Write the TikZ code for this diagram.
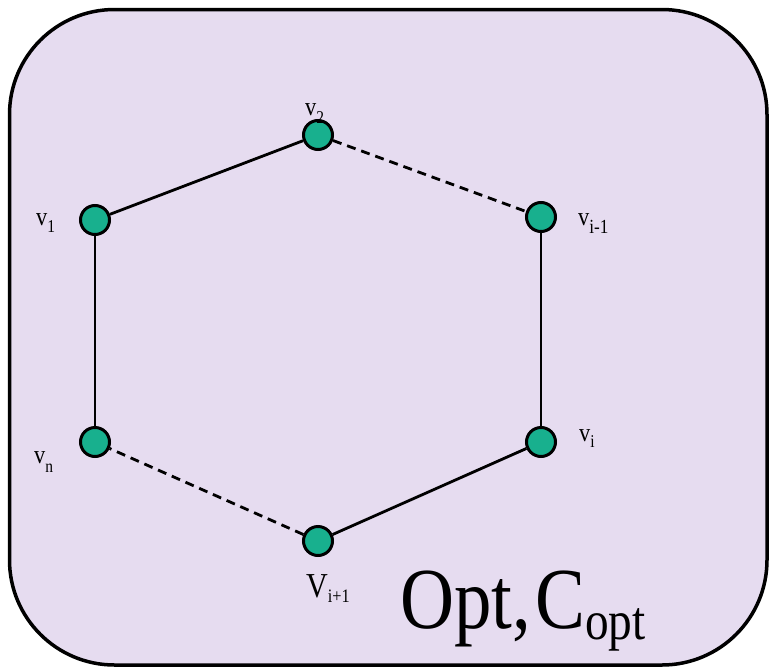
\documentclass[tikz,border=0pt]{standalone}
\usepackage{fontspec}
\setmainfont{Liberation Serif}
\newfontfamily\narrowserif[FakeStretch=0.86]{Liberation Serif}
\definecolor{bgfill}{RGB}{230,220,240}
\definecolor{nodeteal}{RGB}{24,176,142}
\newcommand{\lowsub}[3][7pt]{\raisebox{-#1}{\fontsize{#2}{#2}\selectfont #3}}
\tikzset{
  vert/.style={circle,draw=black,line width=3pt,fill=nodeteal,minimum size=29pt,inner sep=0pt},
  edge/.style={line width=2.8pt},
  dedge/.style={line width=2.8pt,dash pattern=on 9pt off 6pt},
  lbl/.style={anchor=base west,inner sep=0pt,font=\narrowserif\fontsize{26}{26}\selectfont}
}
\begin{document}
\begin{tikzpicture}[x=1pt,y=-1pt]
\useasboundingbox (0,0) rectangle (769,667);
\draw[line width=3.5pt,fill=bgfill,rounded corners=105pt] (9.5,9.5) rectangle (767,665);
\node[vert] (v2) at (318,135) {};
\node[vert] (v1) at (95,220) {};
\node[vert] (vim) at (541,217) {};
\node[vert] (vn) at (95,442) {};
\node[vert] (vi) at (541,442) {};
\node[vert] (vip) at (318,541) {};
\draw[edge] (v1) -- (v2);
\draw[dedge] (v2) -- (vim);
\draw[edge] (vim) -- (vi);
\draw[edge] (vi) -- (vip);
\draw[dedge] (vip) -- (vn);
\draw[edge] (vn) -- (v1);
\node[lbl] (l2) at (305,115) {v\lowsub[8pt]{18}{2}};
\node[lbl] (l1) at (36,225) {v\lowsub{18}{1}};
\node[lbl] (lim) at (578,225) {v\lowsub[8pt]{20}{i-1}};
\node[lbl] (ln) at (34,463) {v\lowsub[9pt]{18}{n}};
\node[lbl] (li) at (579,441) {v\lowsub[6pt]{18}{i}};
\node[lbl,font=\narrowserif\fontsize{35}{35}\selectfont] (lip) at (306,597) {V\lowsub[5pt]{19}{i+1}};
\node[anchor=base west,inner sep=0pt,font=\narrowserif\fontsize{87}{87}\selectfont] (opt) at (400,628) {Opt,\kern4pt C\lowsub[11pt]{55}{opt}};
\end{tikzpicture}
\end{document}
